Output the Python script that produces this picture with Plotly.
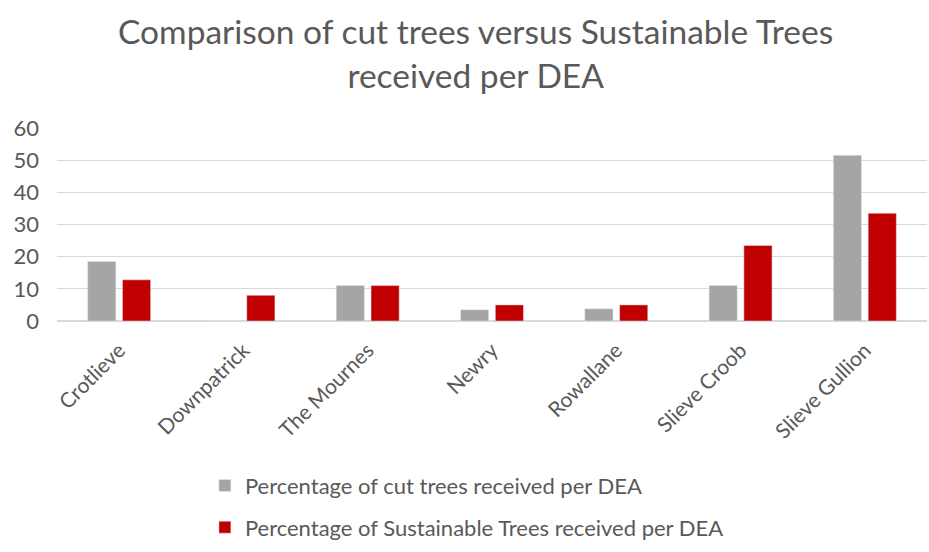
import plotly.graph_objects as go

# District Electoral Areas
areas = ["Crotlieve", "Downpatrick", "The Mournes", "Newry", "Rowallane",
         "Slieve Croob", "Slieve Gullion"]
cut_trees_pct = [18.5, 0, 11, 3.5, 3.8, 11, 51.5]
sustainable_trees_pct = [12.8, 8, 11, 5, 5, 23.5, 33.5]
y_ticks = [0, 10, 20, 30, 40, 50, 60]

TEXT = "#595959"
FONT = "Lato, 'Open Sans', sans-serif"

fig = go.Figure()
fig.add_trace(go.Bar(
    x=areas, y=cut_trees_pct,
    name="Percentage of cut trees received per DEA",
    marker_color="#a5a5a5", legendgroup="a",
))
fig.add_trace(go.Bar(
    x=areas, y=sustainable_trees_pct,
    name="Percentage of Sustainable Trees received per DEA",
    marker_color="#c00000", legendgroup="b",
))

fig.update_layout(
    width=929, height=552,
    margin=dict(l=57, r=2, t=128, b=231, autoexpand=False),
    paper_bgcolor="white", plot_bgcolor="white",
    font=dict(family=FONT, color=TEXT, size=22),
    title=dict(
        text="Comparison of cut trees versus Sustainable Trees<br>received per DEA",
        x=0.512, xanchor="center", xref="container",
        y=0.92, yanchor="middle", yref="container",
        font=dict(size=33.5, color=TEXT, family=FONT),
    ),
    barmode="group", bargap=0.44, bargroupgap=0.19,
    legend=dict(
        orientation="v",
        xref="paper", yref="paper",
        x=0.17, xanchor="left",
        y=-0.745, yanchor="top",
        font=dict(size=22, color=TEXT),
        tracegroupgap=10,
        bgcolor="rgba(0,0,0,0)",
    ),
    showlegend=True,
)
fig.update_xaxes(
    tickangle=-45, showgrid=False, showline=False, ticks="",
    tickfont=dict(size=21, color=TEXT), automargin=False,
    ticklabelstandoff=12,
)
fig.update_yaxes(
    range=[0, 60], tickvals=y_ticks, showgrid=True, gridcolor="#d9d9d9",
    gridwidth=1, zeroline=True, zerolinecolor="#d9d9d9", ticks="",
    tickfont=dict(size=22, color=TEXT), ticklabelstandoff=17, automargin=False,
)

fig.write_html("out.html")
